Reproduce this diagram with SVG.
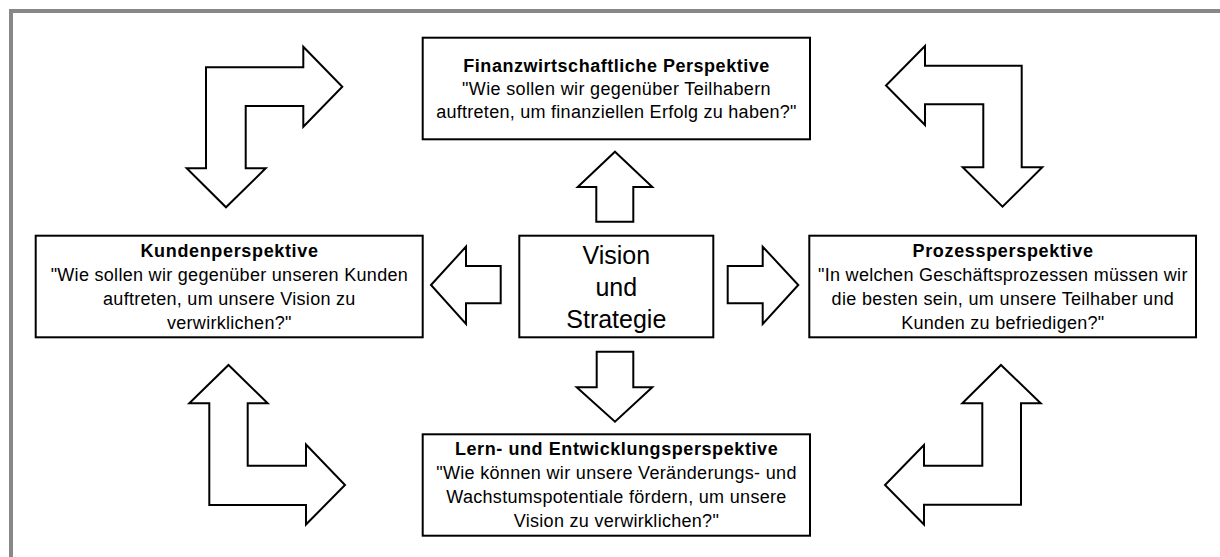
<svg xmlns="http://www.w3.org/2000/svg" width="1220" height="557" viewBox="0 0 1220 557">
  <style>
    .box { fill: #ffffff; stroke: #000000; stroke-width: 2; }
    .arrow { fill: #ffffff; stroke: #000000; stroke-width: 2; stroke-linejoin: miter; }
    .frame { fill: none; stroke: #888888; stroke-width: 4; }
    text { font-family: "Liberation Sans", Arial, sans-serif; fill: #000000; text-anchor: middle; }
    .title { font-size: 18px; font-weight: bold; }
    .body { font-size: 18px; }
    .center { font-size: 25px; }
  </style>
  <rect width="1220" height="557" fill="#ffffff"/>

  <!-- page frame (top and left edges) -->
  <path class="frame" d="M11,557 V11 H1220"/>

  <!-- block arrows between the perspectives -->
  <g id="connectors">
    <!-- top left: bent arrow right / down -->
    <polygon class="arrow" points="206,67.3 303.3,67.3 303.3,46.7 342.3,86.7 303.3,126.7 303.3,106 245.7,106 245.7,168.3 265.7,168.3 226,207.3 186.7,168.3 206,168.3"/>
    <!-- top right: bent arrow left / down -->
    <polygon class="arrow" points="1021.7,65.7 925,65.7 925,46 886,85.5 925,125 925,104.3 983.3,104.3 983.3,167.3 962.7,167.3 1002.5,206.7 1042.3,167.3 1021.7,167.3"/>
    <!-- bottom left: bent arrow up / right -->
    <polygon class="arrow" points="228.5,365 267.7,403.3 247.7,403.3 247.7,465.7 306,465.7 306,444.5 345,485 306,524.5 306,505 209.3,505 209.3,403.3 189.3,403.3"/>
    <!-- bottom right: bent arrow up / left -->
    <polygon class="arrow" points="1001,365 1040.7,403.3 1021,403.3 1021,504.7 924,504.7 924,524.5 885,485 924,445 924,465.7 982.3,465.7 982.3,403.3 962.3,403.3"/>
    <!-- from the centre outwards -->
    <polygon class="arrow" points="615,151.7 652.3,187 633.3,187 633.3,221.7 596.3,221.7 596.3,187 577.7,187"/>
    <polygon class="arrow" points="596.7,351.7 633.3,351.7 633.3,387.3 652.3,387.3 615,421.7 576.7,387.3 596.7,387.3"/>
    <polygon class="arrow" points="431,285 466,246.7 466,266 500.7,266 500.7,303.3 466,303.3 466,324"/>
    <polygon class="arrow" points="727.7,266 762.7,266 762.7,246.7 798.3,285 762.7,324 762.7,303.3 727.7,303.3"/>
  </g>

  <g id="finanz">
    <rect class="box" x="422.7" y="37.7" width="387.3" height="101.6"/>
    <text class="title" x="616.3" y="72" textLength="306" lengthAdjust="spacing">Finanzwirtschaftliche Perspektive</text>
    <text class="body" x="616.3" y="95" textLength="308.4" lengthAdjust="spacing">"Wie sollen wir gegenüber Teilhabern</text>
    <text class="body" x="616.3" y="118" textLength="360.2" lengthAdjust="spacing">auftreten, um finanziellen Erfolg zu haben?"</text>
  </g>

  <g id="kunden">
    <rect class="box" x="35.7" y="235.7" width="387" height="101.6"/>
    <text class="title" x="229.2" y="256.5" textLength="177.5" lengthAdjust="spacing">Kundenperspektive</text>
    <text class="body" x="229.2" y="280.5" textLength="357.1" lengthAdjust="spacing">"Wie sollen wir gegenüber unseren Kunden</text>
    <text class="body" x="229.2" y="304.5" textLength="252.3" lengthAdjust="spacing">auftreten, um unsere Vision zu</text>
    <text class="body" x="229.2" y="328.5" textLength="124.4" lengthAdjust="spacing">verwirklichen?"</text>
  </g>

  <g id="vision">
    <rect class="box" x="519.3" y="235.7" width="194" height="101.6"/>
    <text class="center" x="616.3" y="263.5">Vision</text>
    <text class="center" x="616.3" y="295.5">und</text>
    <text class="center" x="616.3" y="327.5">Strategie</text>
  </g>

  <g id="prozess">
    <rect class="box" x="809.3" y="235.7" width="386.7" height="101.6"/>
    <text class="title" x="1002.7" y="256.5" textLength="180.5" lengthAdjust="spacing">Prozessperspektive</text>
    <text class="body" x="1002.7" y="280.5" textLength="369.4" lengthAdjust="spacing">"In welchen Geschäftsprozessen müssen wir</text>
    <text class="body" x="1002.7" y="304.5" textLength="342.2" lengthAdjust="spacing">die besten sein, um unsere Teilhaber und</text>
    <text class="body" x="1002.7" y="328.5" textLength="203.1" lengthAdjust="spacing">Kunden zu befriedigen?"</text>
  </g>

  <g id="lernen">
    <rect class="box" x="422.7" y="434.3" width="387.3" height="101.4"/>
    <text class="title" x="616.3" y="455" textLength="322.7" lengthAdjust="spacing">Lern- und Entwicklungsperspektive</text>
    <text class="body" x="616.3" y="479" textLength="360.2" lengthAdjust="spacing">"Wie können wir unsere Veränderungs- und</text>
    <text class="body" x="616.3" y="503" textLength="340.1" lengthAdjust="spacing">Wachstumspotentiale fördern, um unsere</text>
    <text class="body" x="616.3" y="527" textLength="205" lengthAdjust="spacing">Vision zu verwirklichen?"</text>
  </g>
</svg>
